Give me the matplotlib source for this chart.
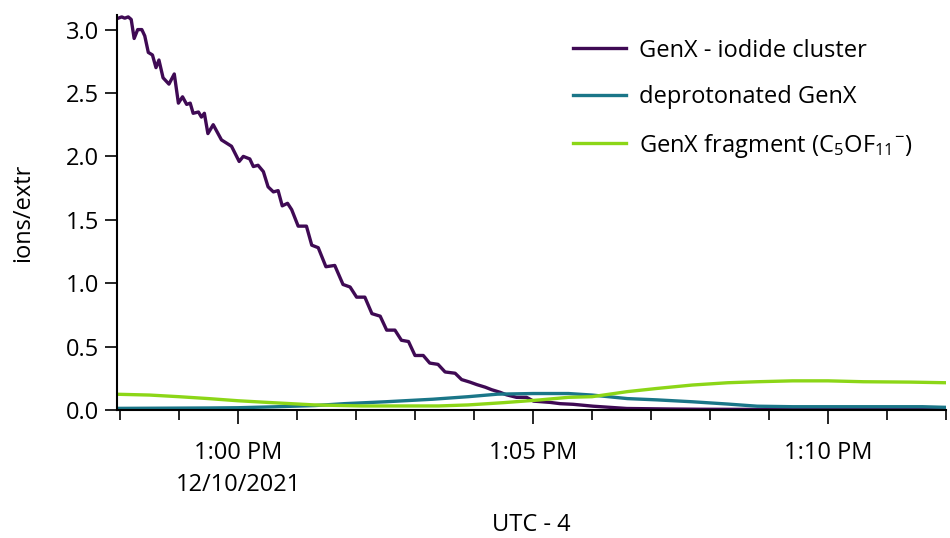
import matplotlib
matplotlib.use("Agg")
import matplotlib.pyplot as plt
import matplotlib.ticker as mticker

plt.rcParams['font.family'] = ['Open Sans', 'DejaVu Sans']
plt.rcParams['mathtext.fontset'] = 'custom'
plt.rcParams['mathtext.rm'] = 'Open Sans'
plt.rcParams['mathtext.it'] = 'Open Sans'

# minutes relative to 1:00 PM, 12/10/2021 (UTC - 4)
iodide_t = [-2.03, -1.97, -1.92, -1.86, -1.81, -1.76, -1.70, -1.63, -1.58, -1.52,
            -1.45, -1.39, -1.34, -1.27, -1.17, -1.08, -1.01, -0.94, -0.87, -0.81,
            -0.76, -0.67, -0.62, -0.57, -0.51, -0.42, -0.28, -0.11, 0.02, 0.09,
            0.20, 0.26, 0.34, 0.43, 0.51, 0.60, 0.68, 0.75, 0.84, 0.91,
            1.02, 1.16, 1.25, 1.36, 1.49, 1.64, 1.78, 1.90, 2.01, 2.15,
            2.27, 2.41, 2.52, 2.66, 2.77, 2.89, 3.00, 3.14, 3.25, 3.39,
            3.51, 3.68, 3.79, 3.93, 4.05, 4.19, 4.30, 4.44, 4.55, 4.72,
            4.89, 5.01, 5.29, 5.46, 5.68, 6.02, 6.59, 7.3, 7.83, 8.6,
            9.5, 10.4, 11.2, 12.0]
iodide = [3.09, 3.10, 3.09, 3.10, 3.08, 2.93, 3.00, 3.00, 2.95, 2.82,
          2.80, 2.70, 2.76, 2.62, 2.57, 2.65, 2.42, 2.47, 2.41, 2.42,
          2.34, 2.35, 2.31, 2.34, 2.18, 2.25, 2.13, 2.08, 1.96, 2.00,
          1.98, 1.92, 1.93, 1.88, 1.76, 1.72, 1.73, 1.61, 1.63, 1.58,
          1.45, 1.45, 1.30, 1.28, 1.13, 1.14, 0.99, 0.97, 0.89, 0.89,
          0.76, 0.74, 0.63, 0.63, 0.55, 0.54, 0.43, 0.43, 0.37, 0.36,
          0.30, 0.29, 0.24, 0.22, 0.20, 0.18, 0.16, 0.14, 0.12, 0.10,
          0.10, 0.07, 0.06, 0.05, 0.045, 0.03, 0.012, 0.008, 0.006, 0.005,
          0.004, 0.005, 0.004, 0.005]

deprot_t = [-2.03, -1.5, -1.0, -0.5, 0.0, 0.6, 1.3, 1.8, 2.5, 3.3,
            3.9, 4.4, 5.0, 5.6, 6.0, 6.6, 7.1, 7.7, 8.3, 8.8,
            9.4, 10.5, 11.6, 12.0]
deprot = [0.013, 0.014, 0.015, 0.016, 0.018, 0.025, 0.035, 0.05, 0.065, 0.085,
          0.105, 0.125, 0.13, 0.13, 0.118, 0.09, 0.08, 0.065, 0.047, 0.03,
          0.026, 0.026, 0.026, 0.021]

frag_t = [-2.03, -1.5, -1.0, -0.5, 0.0, 0.5, 1.3, 2.1, 2.8, 3.4,
          3.9, 4.5, 5.1, 5.6, 6.0, 6.6, 7.1, 7.7, 8.3, 8.8,
          9.4, 10.0, 10.6, 11.4, 12.0]
frag = [0.124, 0.118, 0.105, 0.09, 0.073, 0.06, 0.04, 0.032, 0.032, 0.032,
        0.04, 0.058, 0.079, 0.10, 0.105, 0.145, 0.17, 0.197, 0.215, 0.223,
        0.23, 0.23, 0.223, 0.22, 0.215]

labels = ['GenX - iodide cluster', 'deprotonated GenX',
          'GenX fragment (C$_5$OF$_{11}$$^{-}$)']
colors = ['#3f0a54', '#1a7688', '#8cd617']

fig = plt.figure(figsize=(9.5, 5.38), dpi=100)
ax = fig.add_axes([0.1232, 0.2379, 0.8726, 0.7342])

ax.plot(iodide_t, iodide, color=colors[0], lw=2.4, label=labels[0])
ax.plot(deprot_t, deprot, color=colors[1], lw=2.4, label=labels[1])
ax.plot(frag_t, frag, color=colors[2], lw=2.4, label=labels[2])

ax.set_xlim(-2.05, 12.0)
ax.set_ylim(0, 3.115)

for s in ['top', 'right']:
    ax.spines[s].set_visible(False)
for s in ['left', 'bottom']:
    ax.spines[s].set_linewidth(1.5)

ax.xaxis.set_major_locator(mticker.FixedLocator([0, 5, 10]))
ax.xaxis.set_minor_locator(mticker.MultipleLocator(1))
ax.set_xticklabels(['1:00 PM\n12/10/2021', '1:05 PM', '1:10 PM'],
                   linespacing=1.45, va='top')
ax.yaxis.set_major_locator(mticker.MultipleLocator(0.5))
ax.yaxis.set_major_formatter(mticker.FormatStrFormatter('%.1f'))

ax.tick_params(axis='x', which='major', length=10, width=1.2, labelsize=17, pad=12)
ax.tick_params(axis='x', which='minor', length=7, width=1.2)
ax.tick_params(axis='y', length=9, width=1.2, labelsize=17, pad=4)

ax.set_xlabel('UTC - 4', fontsize=17, labelpad=12)
ax.set_ylabel('ions/extr', fontsize=17, labelpad=22)

fig.legend(loc='upper left', bbox_to_anchor=(0.603, 0.928), frameon=False,
           fontsize=17, handlelength=2.25, handletextpad=0.55,
           labelspacing=0.95, borderpad=0, borderaxespad=0)

fig.savefig('out.png', dpi=100)
